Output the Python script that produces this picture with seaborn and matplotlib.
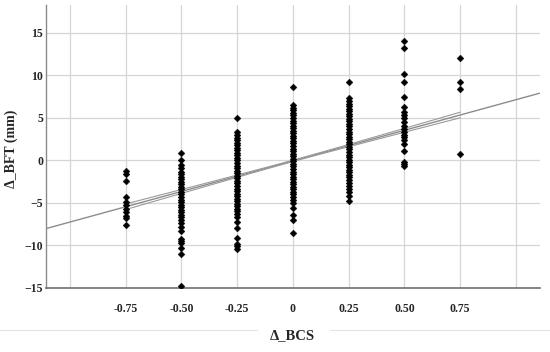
import numpy as np
import pandas as pd
import matplotlib
matplotlib.use("Agg")
import matplotlib.pyplot as plt
import seaborn as sns

############### Data ##################################
bcs_levels = [-0.75, -0.50, -0.25, 0.0, 0.25, 0.50, 0.75]

bft_m075 = [-1.2, -1.6, -2.4, -4.3, -4.9, -5.3, -5.7, -6.1, -6.5, -6.8, -7.6]
bft_m050 = [0.9, 0.1, -0.5, -0.9, -1.3, -1.6, -1.9, -2.2, -2.5, -2.8, -3.1, -3.4,
            -3.7, -4.0, -4.3, -4.6, -4.9, -5.2, -5.5, -5.8, -6.1, -6.4, -6.7, -7.0,
            -7.4, -7.8, -8.3, -9.2, -9.5, -9.7, -10.3, -11.0, -14.8]
bft_m025 = [5.0, 3.3, 3.0, 2.7, 2.4, 2.1, 1.8, 1.5, 1.2, 0.9, 0.6, 0.3, 0.0, -0.3,
            -0.6, -0.9, -1.2, -1.5, -1.8, -2.1, -2.4, -2.7, -3.0, -3.3, -3.6, -3.9,
            -4.2, -4.5, -4.8, -5.1, -5.4, -5.7, -6.0, -6.3, -6.6, -7.2, -7.9, -9.1,
            -9.8, -10.1, -10.4]
bft_0 = [8.6, 6.5, 6.2, 5.9, 5.6, 5.3, 5.0, 4.7, 4.4, 4.1, 3.8, 3.5, 3.2, 2.9, 2.6,
         2.3, 2.0, 1.7, 1.4, 1.1, 0.8, 0.5, 0.2, -0.1, -0.4, -0.7, -1.0, -1.3, -1.6,
         -1.9, -2.2, -2.5, -2.8, -3.1, -3.4, -3.7, -4.0, -4.3, -4.6, -5.0, -5.6,
         -6.4, -7.0, -8.5]
bft_p025 = [9.2, 7.3, 7.0, 6.7, 6.4, 6.1, 5.8, 5.5, 5.2, 4.9, 4.6, 4.3, 4.0, 3.7,
            3.4, 3.1, 2.8, 2.5, 2.2, 1.9, 1.6, 1.3, 1.0, 0.7, 0.4, 0.1, -0.2, -0.5,
            -0.8, -1.1, -1.4, -1.7, -2.0, -2.3, -2.6, -2.95, -3.3, -3.7, -4.2, -4.8]
bft_p050 = [14.0, 13.2, 10.2, 9.2, 7.5, 6.3, 5.7, 5.3, 4.95, 4.5, 4.0, 3.7, 3.3,
            3.05, 2.75, 2.4, 1.95, 1.15, -0.15, -0.45, -0.65]
bft_p075 = [12.1, 9.2, 8.4, 0.8]

# fitted line and its 95% CI (half width at the mean and at the ends of the data)
fit_slope = 7.2
fit_intercept = -0.05
ci_half_center = 0.08
ci_half_edge = 0.33

x_ticks = [-1.0, -0.75, -0.50, -0.25, 0.0, 0.25, 0.50, 0.75, 1.0]
x_ticklabels = ["", "-0.75", "-0.50", "-0.25", "0", "0.25", "0.50", "0.75", ""]
y_ticks = [-15, -10, -5, 0, 5, 10, 15]

columns = [bft_m075, bft_m050, bft_m025, bft_0, bft_p025, bft_p050, bft_p075]
df = pd.DataFrame({
    "BCS": np.concatenate([[b] * len(c) for b, c in zip(bcs_levels, columns)]),
    "BFT": np.concatenate(columns),
})

############# Plot ##############################
sns.set_style("white")
plt.rcParams["font.family"] = ["Liberation Serif", "DejaVu Serif"]

fig = plt.figure(figsize=(5.5, 3.52), dpi=100)
ax = fig.add_axes([0.0836, 0.182, 0.898, 0.804])

xlim = (-1.107, 1.107)
ax.set_xlim(*xlim)
ax.set_ylim(-15, 18.3)

ax.set_xticks(x_ticks)
ax.set_xticklabels(x_ticklabels)
ax.set_yticks(y_ticks)
ax.grid(True, color="#d6d6d6", linewidth=0.9)
ax.set_axisbelow(True)

# regression line across the whole axis
xx = np.linspace(xlim[0], xlim[1], 50)
ax.plot(xx, fit_intercept + fit_slope * xx, color="#8c8c8c", linewidth=1.0, zorder=2)

# confidence band lines, only over the data range
xd = np.linspace(min(bcs_levels), max(bcs_levels), 100)
b = np.sqrt(ci_half_edge ** 2 - ci_half_center ** 2) / max(bcs_levels)
half = np.sqrt(ci_half_center ** 2 + (b * xd) ** 2)
for sign in (-1, 1):
    ax.plot(xd, fit_intercept + fit_slope * xd + sign * half,
            color="#9a9a9a", linewidth=0.8, zorder=2)

sns.scatterplot(data=df, x="BCS", y="BFT", ax=ax, marker="D", s=12,
                color="black", edgecolor="black", linewidth=0.3, zorder=3)

for side in ("top", "right"):
    ax.spines[side].set_visible(False)
ax.spines["left"].set_color("#8a8a8a")
ax.spines["bottom"].set_color("#707070")
ax.spines["left"].set_linewidth(1.0)
ax.spines["bottom"].set_linewidth(1.2)

ax.tick_params(axis="both", length=0, labelsize=8.5)
ax.tick_params(axis="x", pad=11)
ax.tick_params(axis="y", pad=2)
for lab in ax.get_xticklabels() + ax.get_yticklabels():
    lab.set_fontweight("bold")

ax.set_xlabel("")
ax.set_ylabel("Δ_BFT (mm)", fontsize=10, fontweight="bold")
ax.yaxis.set_label_coords(-0.056, 0.49)
fig.text(0.532, 0.027, "Δ_BCS", fontsize=10.5, fontweight="bold", ha="center", va="bottom")

# faint frame line under the chart
fig.add_artist(plt.Line2D([0.0, 0.468], [0.0625, 0.0625], color="#e4e4e4", linewidth=0.8))
fig.add_artist(plt.Line2D([0.6, 1.0], [0.0625, 0.0625], color="#e4e4e4", linewidth=0.8))

fig.savefig("out.png", dpi=100)
